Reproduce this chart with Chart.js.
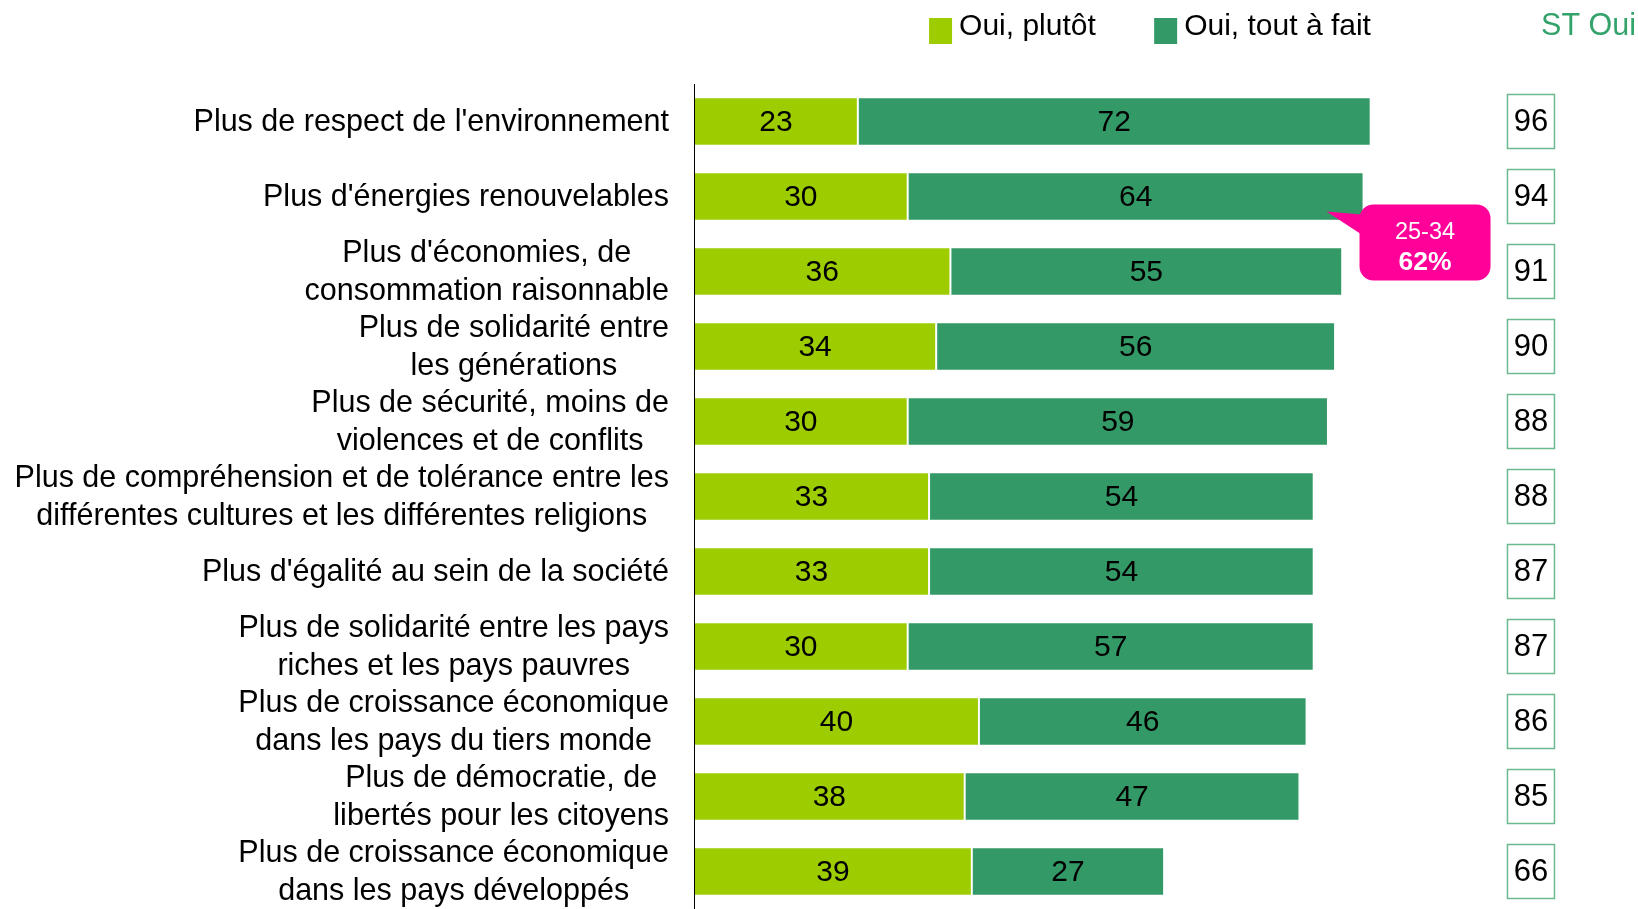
<!DOCTYPE html>
<html>
<head>
<meta charset="utf-8">
<script src="https://cdn.jsdelivr.net/npm/chart.js@4.4.1/dist/chart.umd.min.js"></script>
<style>
  html, body { margin: 0; padding: 0; background: #fff; overflow: hidden; }
</style>
</head>
<body>
<canvas id="canvas" width="1638" height="909"></canvas>
<script>
const categories = [
  ["Plus de respect de l'environnement"],
  ["Plus d'énergies renouvelables"],
  ["Plus d'économies, de", "consommation raisonnable"],
  ["Plus de solidarité entre", "les générations"],
  ["Plus de sécurité, moins de", "violences et de conflits"],
  ["Plus de compréhension et de tolérance entre les", "différentes cultures et les différentes religions"],
  ["Plus d'égalité au sein de la société"],
  ["Plus de solidarité entre les pays", "riches et les pays pauvres"],
  ["Plus de croissance économique", "dans les pays du tiers monde"],
  ["Plus de démocratie, de", "libertés pour les citoyens"],
  ["Plus de croissance économique", "dans les pays développés"]
];
const ouiPlutot = [23, 30, 36, 34, 30, 33, 33, 30, 40, 38, 39];
const ouiToutAFait = [72, 64, 55, 56, 59, 54, 54, 57, 46, 47, 27];
const stOui = [96, 94, 91, 90, 88, 88, 87, 87, 86, 85, 66];
const seriesNames = ["Oui, plutôt", "Oui, tout à fait"];
const stLabel = "ST Oui";
const callout = { row: 1, value: 88.8, top: "25-34", bottom: "62%" };

const FONT = "'Liberation Sans', Arial, sans-serif";
const lightGreen = "#9dcc00";
const darkGreen = "#339966";

// labels, values, ST boxes, legend and callout
const decorations = {
  id: "decorations",
  afterDraw(chart) {
    const ctx = chart.ctx;
    const area = chart.chartArea;
    const x = chart.scales.x;
    const y = chart.scales.y;
    const step = Math.abs(y.getPixelForValue(1) - y.getPixelForValue(0));
    ctx.save();

    // category labels: block right aligned, lines centred in block
    ctx.font = "30.5px " + FONT;
    ctx.fillStyle = "#000";
    ctx.textBaseline = "middle";
    ctx.textAlign = "center";
    const lineH = 38.5;
    categories.forEach((lines, i) => {
      const w = Math.max(...lines.map(l => ctx.measureText(l).width));
      const cx = area.left - 25 - w / 2;
      const cy = y.getPixelForValue(i);
      lines.forEach((l, k) => {
        ctx.fillText(l, cx, cy + (k - (lines.length - 1) / 2) * lineH + 1);
      });
    });

    // values in bars
    ctx.font = "30px " + FONT;
    chart.data.datasets.forEach((ds, d) => {
      const meta = chart.getDatasetMeta(d);
      meta.data.forEach((bar, i) => {
        const p = bar.getCenterPoint();
        ctx.fillText(ds.data[i], p.x, p.y + 1);
      });
    });

    // ST Oui boxes
    const bx = x.getPixelForValue(117.5);
    ctx.font = "31px " + FONT;
    stOui.forEach((v, i) => {
      const cy = y.getPixelForValue(i);
      ctx.strokeStyle = "#6cb990";
      ctx.lineWidth = 1.5;
      ctx.strokeRect(bx - 23.5, cy - 27, 47, 54);
      ctx.fillStyle = "#000";
      ctx.fillText(v, bx, cy + 1);
    });

    // legend
    ctx.textAlign = "left";
    ctx.font = "30px " + FONT;
    const legendX = [x.getPixelForValue(33.0), x.getPixelForValue(64.6)];
    chart.data.datasets.forEach((ds, d) => {
      ctx.fillStyle = ds.backgroundColor;
      ctx.fillRect(legendX[d], 18, 23, 26);
      ctx.fillStyle = "#000";
      ctx.fillText(ds.label, legendX[d] + 30, 27);
    });
    ctx.fillStyle = "#33a36b";
    ctx.textAlign = "right";
    ctx.font = "30.5px " + FONT;
    ctx.fillText(stLabel, chart.width - 2, 27);

    // callout
    const tx = x.getPixelForValue(callout.value);
    const ty = y.getPixelForValue(callout.row) + step * 0.2;
    const left = tx + 33, top = ty - 7, w = 131, h = 76, r = 14;
    ctx.fillStyle = "#ff0099";
    ctx.beginPath();
    ctx.roundRect(left, top, w, h, r);
    ctx.fill();
    ctx.beginPath();
    ctx.moveTo(tx, ty);
    ctx.lineTo(left + 2, top + 10);
    ctx.lineTo(left + 2, top + 30);
    ctx.closePath();
    ctx.fill();
    ctx.fillStyle = "#fff";
    ctx.textAlign = "center";
    ctx.font = "23.5px " + FONT;
    ctx.fillText(callout.top, left + w / 2, top + 28);
    ctx.font = "bold 26.5px " + FONT;
    ctx.fillText(callout.bottom, left + w / 2, top + 58);

    ctx.restore();
  }
};

const chartContainer = document.getElementById("canvas").getContext("2d");
new Chart(chartContainer, {
  type: "bar",
  data: {
    labels: categories,
    datasets: [
      {
        label: seriesNames[0],
        data: ouiPlutot,
        backgroundColor: lightGreen,
        borderColor: "#ffffff",
        borderWidth: 1,
        borderSkipped: false
      },
      {
        label: seriesNames[1],
        data: ouiToutAFait,
        backgroundColor: darkGreen,
        borderColor: "#ffffff",
        borderWidth: 1,
        borderSkipped: false
      }
    ]
  },
  options: {
    indexAxis: "y",
    responsive: false,
    animation: false,
    layout: { padding: { left: 694, right: 18, top: 84, bottom: 0 } },
    plugins: { legend: { display: false }, tooltip: { enabled: false } },
    scales: {
      x: { stacked: true, display: false, min: 0, max: 130 },
      y: {
        stacked: true,
        ticks: { display: false },
        grid: { display: false, drawTicks: false },
        border: { display: true, color: "#000", width: 1, z: 1 }
      }
    },
    datasets: { bar: { barPercentage: 0.645, categoryPercentage: 1 } }
  },
  plugins: [decorations]
});
</script>
</body>
</html>
